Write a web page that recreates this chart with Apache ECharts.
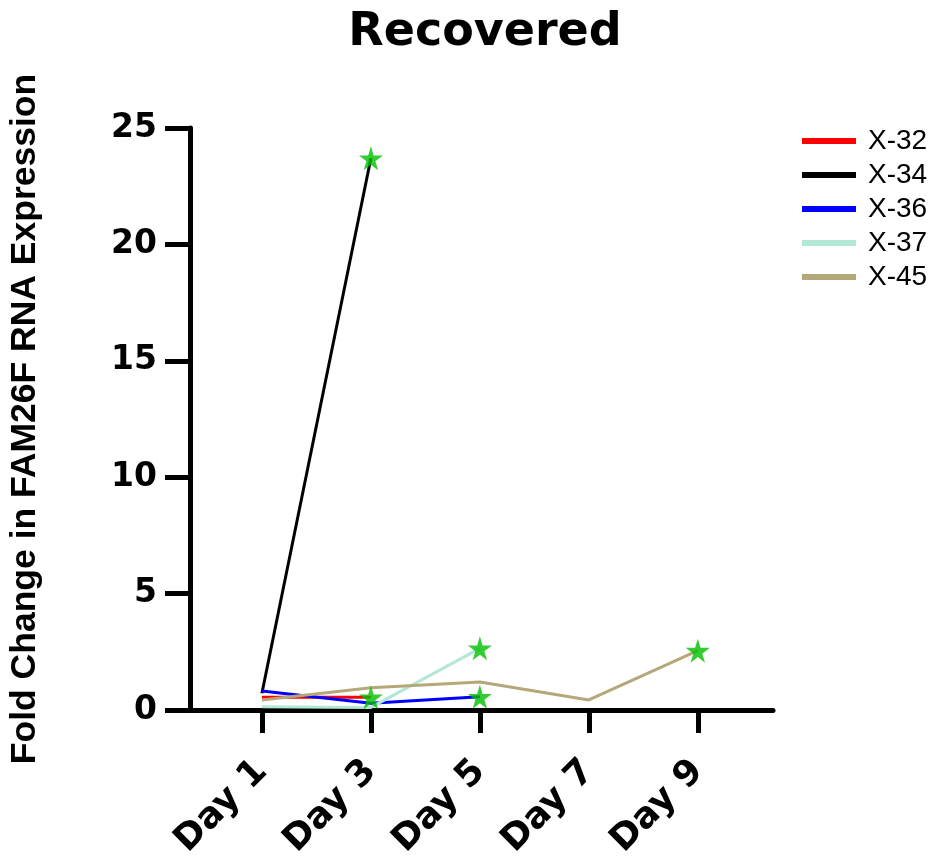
<!DOCTYPE html>
<html>
<head>
<meta charset="utf-8">
<script src="https://cdn.jsdelivr.net/npm/echarts@6/dist/echarts.min.js"></script>
<style>
  html, body { margin: 0; padding: 0; background: #ffffff; }
  #chart { width: 930px; height: 865px; }
</style>
</head>
<body>
<div id="chart"></div>
<script>
  // sampling days and one array of values per patient (null = not measured)
  const days = [1, 3, 5, 7, 9];
  const x32 = [0.55, 0.55, null, null, null];
  const x34 = [0.72, 23.7, null, null, null];
  const x36 = [0.82, 0.29, 0.57, null, null];
  const x37 = [0.14, 0.11, 2.65, null, null];
  const x45 = [0.43, 0.96, 1.2, 0.43, 2.55];

  const names = ['X-32', 'X-34', 'X-36', 'X-37', 'X-45'];
  const colors = ['#ff0000', '#000000', '#0000ff', '#b3e8d6', '#b4a87a'];
  const yTicks = [0, 5, 10, 15, 20, 25];

  const star = 'path://M50,0 L61,35 L98,35 L68,57 L79,91 L50,70 L21,91 L32,57 L2,35 L39,35 Z';

  const allValues = [x32, x34, x36, x37, x45];
  const toPairs = (vals) => days.map((d, i) => [d, vals[i]]).filter(p => p[1] !== null);

  const lineSeries = allValues.map((vals, i) => ({
    name: names[i],
    type: 'line',
    data: toPairs(vals),
    showSymbol: false,
    symbol: 'none',
    lineStyle: { width: 3, color: colors[i] },
    itemStyle: { color: colors[i] },
    z: 2
  }));

  // green star on the last measured point of each patient
  const lastPoints = allValues.map(vals => {
    const p = toPairs(vals);
    return p[p.length - 1];
  });

  const chart = echarts.init(document.getElementById('chart'));
  chart.setOption({
    animation: false,
    title: {
      text: 'Recovered',
      left: 480,
      top: 5,
      textAlign: 'center',
      textStyle: { fontFamily: 'DejaVu Sans', fontWeight: 'bold', fontSize: 46, color: '#000' }
    },
    legend: {
      data: names,
      orient: 'vertical',
      left: 802,
      top: 124,
      padding: 0,
      itemGap: 0,
      itemWidth: 54,
      itemHeight: 6,
      icon: 'rect',
      textStyle: {
        fontFamily: 'Liberation Sans',
        fontSize: 28,
        lineHeight: 34,
        color: '#000',
        padding: [0, 0, 0, 7]
      }
    },
    grid: { left: 190, right: 157, top: 128, bottom: 155, containLabel: false, outerBoundsMode: 'none' },
    xAxis: {
      type: 'value',
      min: -0.32,
      max: 10.38,
      splitLine: { show: false },
      axisLine: { lineStyle: { color: '#000', width: 5 } },
      axisTick: { customValues: days, length: 23, lineStyle: { color: '#000', width: 5 } },
      axisLabel: {
        customValues: days,
        formatter: v => 'Day ' + v,
        rotate: 45,
        margin: 56,
        fontFamily: 'DejaVu Sans',
        fontWeight: 'bold',
        fontSize: 36,
        color: '#000'
      }
    },
    yAxis: {
      type: 'value',
      min: 0,
      max: 25,
      interval: 5,
      name: 'Fold Change in FAM26F RNA Expression',
      nameLocation: 'middle',
      nameRotate: 90,
      nameGap: 147,
      nameTextStyle: { fontFamily: 'Liberation Sans', fontWeight: 'bold', fontSize: 35.5, color: '#000' },
      splitLine: { show: false },
      axisLine: { show: true, onZero: false, lineStyle: { color: '#000', width: 5 } },
      axisTick: { show: true, customValues: yTicks, length: 25, lineStyle: { color: '#000', width: 5 } },
      axisLabel: {
        margin: 33,
        fontFamily: 'DejaVu Sans',
        fontWeight: 'bold',
        fontSize: 33,
        color: '#000'
      }
    },
    series: lineSeries.concat([{
      name: 'last',
      type: 'scatter',
      data: lastPoints,
      symbol: star,
      symbolSize: 24,
      itemStyle: { color: '#00c000' },
      z: 5
    }])
  });
</script>
</body>
</html>
